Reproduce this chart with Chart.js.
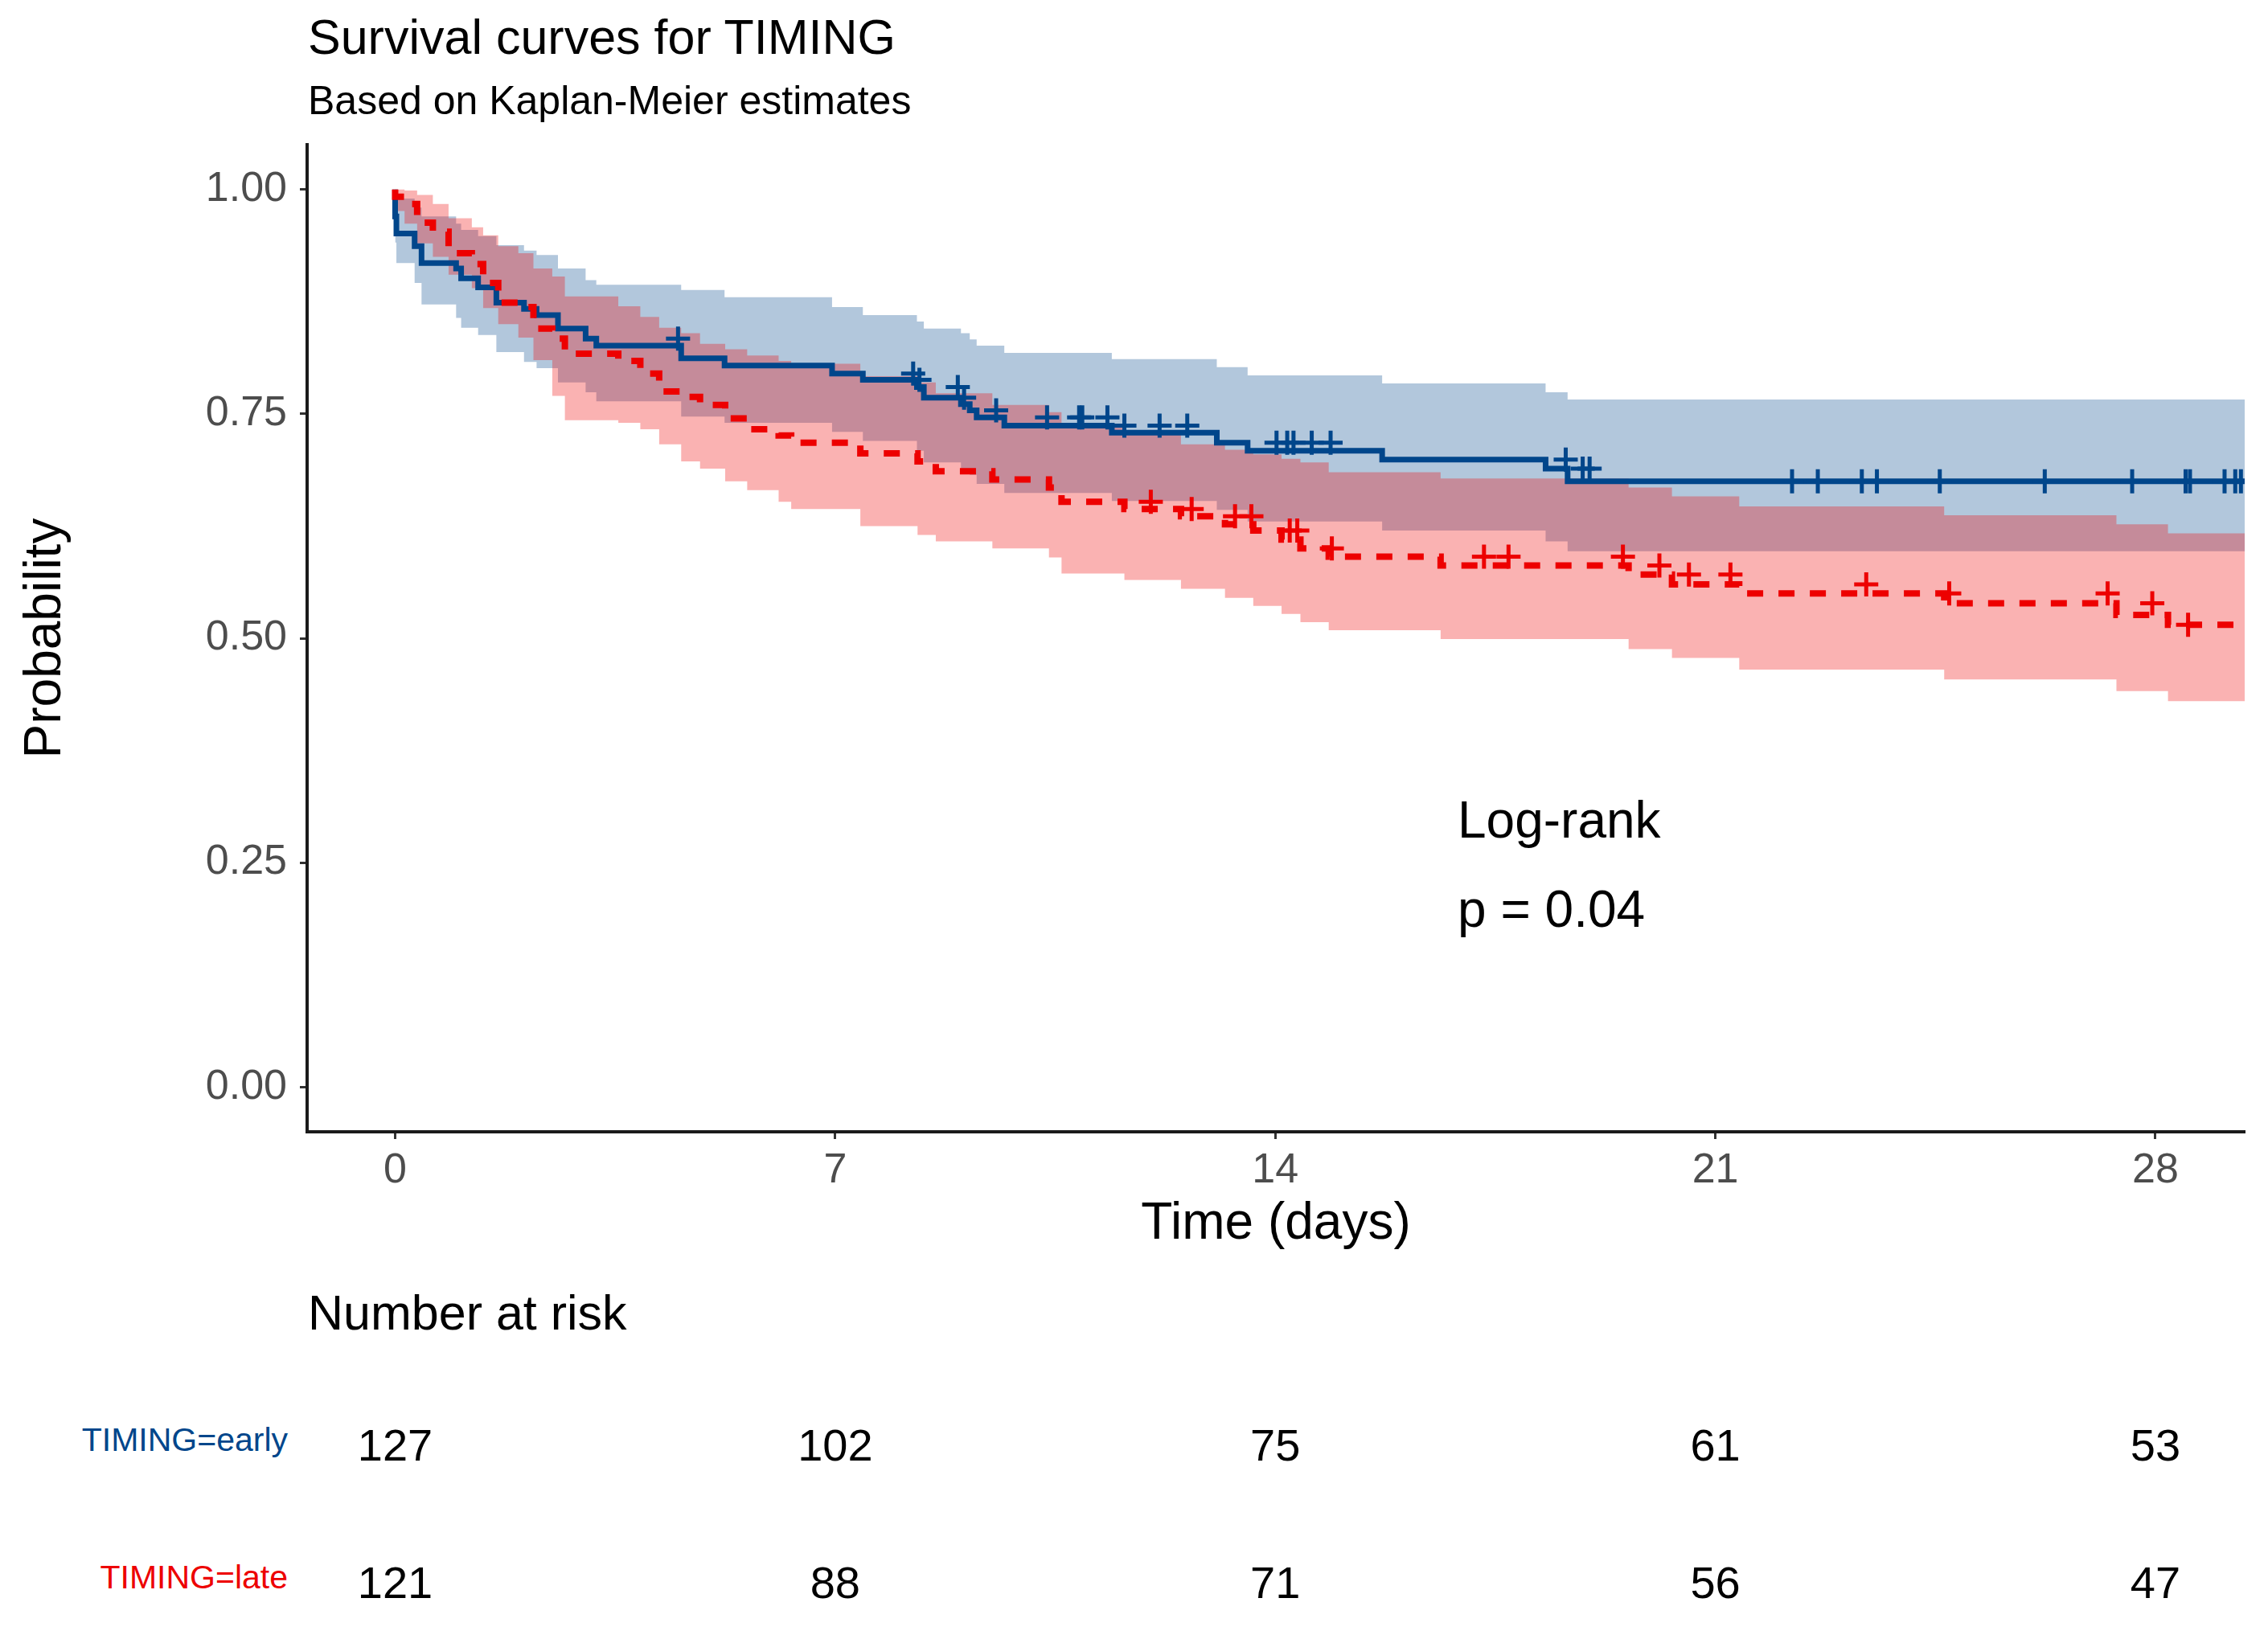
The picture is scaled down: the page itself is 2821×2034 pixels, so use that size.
<!DOCTYPE html>
<html>
<head>
<meta charset="utf-8">
<title>Survival curves for TIMING</title>
<script src="https://cdn.jsdelivr.net/npm/chart.js@4.4.1/dist/chart.umd.min.js"></script>
<style>
  html, body { margin: 0; padding: 0; background: #fff; }
  body { width: 2821px; height: 2034px; position: relative; overflow: hidden;
         font-family: 'Liberation Sans', Arial, sans-serif; color: #000; }
  #plot { position: absolute; left: 0; top: 0; width: 2821px; height: 1580px; }
  .txt { position: absolute; white-space: nowrap; line-height: 1; }
</style>
</head>
<body>
<div id="plot"><canvas id="km"></canvas></div>
<script>
// Kaplan-Meier steps: time in days, survival probability //
// TIMING=early //
const earlyTime  = [0, 0.02, 0.31, 0.42, 0.97, 1.05, 1.32, 1.61, 2.05, 2.25, 2.59, 3.03, 3.20, 4.55, 5.24, 6.95, 7.44, 8.30, 8.41, 9.00, 9.14, 9.25, 9.69, 11.40, 13.07, 13.56, 15.70, 18.30, 18.65, 19.92, 29.45];
const earlySurv  = [1.000, 0.970, 0.951, 0.937, 0.918, 0.912, 0.901, 0.891, 0.874, 0.867, 0.860, 0.845, 0.834, 0.826, 0.812, 0.804, 0.795, 0.788, 0.780, 0.768, 0.761, 0.754, 0.746, 0.737, 0.729, 0.718, 0.709, 0.699, 0.689, 0.675, 0.675];
const earlyUpper = [1.000, 1.000, 0.990, 0.980, 0.970, 0.962, 0.955, 0.948, 0.938, 0.932, 0.927, 0.912, 0.899, 0.894, 0.888, 0.880, 0.869, 0.860, 0.853, 0.845, 0.840, 0.833, 0.826, 0.818, 0.811, 0.802, 0.793, 0.784, 0.774, 0.766, 0.766];
const earlyLower = [1.000, 0.941, 0.918, 0.896, 0.872, 0.857, 0.846, 0.838, 0.819, 0.808, 0.801, 0.785, 0.774, 0.764, 0.747, 0.740, 0.730, 0.720, 0.709, 0.696, 0.689, 0.682, 0.672, 0.662, 0.653, 0.643, 0.630, 0.620, 0.608, 0.597, 0.597];
const earlyCensor = [4.50, 8.24, 8.34, 8.95, 9.05, 9.56, 10.37, 10.88, 10.93, 11.33, 11.60, 12.16, 12.60, 14.02, 14.19, 14.29, 14.58, 14.88, 18.62, 18.89, 19.00, 22.22, 22.63, 23.33, 23.57, 24.57, 26.24, 27.63, 28.48, 28.55, 29.10, 29.27, 29.36];

// TIMING=late //
const lateTime  = [0, 0.15, 0.35, 0.60, 0.85, 1.22, 1.40, 1.64, 1.96, 2.20, 2.50, 2.70, 3.55, 3.90, 4.20, 4.55, 4.85, 5.25, 5.60, 6.10, 6.30, 7.40, 8.31, 8.60, 9.50, 10.40, 10.60, 11.60, 12.50, 13.20, 13.65, 14.10, 14.40, 14.85, 16.63, 19.62, 20.31, 21.38, 24.64, 27.38, 28.20, 28.41, 29.45];
const lateSurv  = [1.000, 0.992, 0.984, 0.963, 0.953, 0.929, 0.917, 0.896, 0.874, 0.869, 0.845, 0.834, 0.817, 0.809, 0.795, 0.775, 0.769, 0.760, 0.745, 0.733, 0.726, 0.718, 0.706, 0.697, 0.686, 0.677, 0.668, 0.652, 0.644, 0.636, 0.627, 0.620, 0.610, 0.600, 0.591, 0.581, 0.571, 0.560, 0.550, 0.539, 0.526, 0.515, 0.515];
const lateUpper = [1.000, 1.000, 0.999, 0.994, 0.984, 0.968, 0.958, 0.949, 0.937, 0.929, 0.912, 0.903, 0.881, 0.870, 0.858, 0.846, 0.840, 0.828, 0.822, 0.815, 0.809, 0.806, 0.792, 0.785, 0.773, 0.760, 0.752, 0.737, 0.730, 0.716, 0.710, 0.705, 0.700, 0.696, 0.685, 0.678, 0.668, 0.658, 0.647, 0.637, 0.627, 0.617, 0.617];
const lateLower = [1.000, 0.976, 0.962, 0.940, 0.925, 0.905, 0.890, 0.868, 0.850, 0.835, 0.810, 0.770, 0.743, 0.740, 0.733, 0.716, 0.697, 0.689, 0.675, 0.665, 0.652, 0.644, 0.625, 0.615, 0.608, 0.600, 0.590, 0.572, 0.565, 0.555, 0.545, 0.536, 0.527, 0.518, 0.509, 0.499, 0.488, 0.478, 0.465, 0.454, 0.441, 0.430, 0.430];
const lateCensor = [12.02, 12.67, 13.36, 13.62, 14.23, 14.35, 14.90, 17.32, 17.71, 19.53, 20.11, 20.58, 21.24, 23.40, 24.72, 27.24, 27.95, 28.52];

// axis ticks and the number at risk table //
const tickDays = [0, 7, 14, 21, 28];
const tickProb = [0, 0.25, 0.5, 0.75, 1];
const riskTimes = [0, 7, 14, 21, 28];
const riskEarly = [127, 102, 75, 61, 53];
const riskLate  = [121, 88, 71, 56, 47];

const BLUE = '#00468B';
const RED = '#ED0000';

Chart.defaults.font.family = "'Liberation Sans', Arial, sans-serif";

function toPoints(times, vals) {
  return times.map((t, i) => ({ x: t, y: vals[i] }));
}

// value of a step curve at time t //
function stepAt(times, vals, t) {
  let v = vals[0];
  for (let i = 0; i < times.length; i++) {
    if (times[i] <= t) v = vals[i];
  }
  return v;
}

function censorPoints(ct, times, vals) {
  return ct.map(t => ({ x: t, y: stepAt(times, vals, t) }));
}

function bandSet(label, times, vals, color, fill, order) {
  return {
    label: label, data: toPoints(times, vals), stepped: 'after',
    borderWidth: 0, borderColor: 'rgba(0,0,0,0)', pointRadius: 0,
    backgroundColor: color, fill: fill, order: order
  };
}

const axisGrid = { drawOnChartArea: false, drawTicks: true, tickLength: 9, tickWidth: 3, tickColor: '#333' };
const axisBorder = { display: true, color: '#1a1a1a', width: 4 };

const chart = new Chart(document.getElementById('km'), {
  type: 'line',
  data: {
    datasets: [
      bandSet('early upper', earlyTime, earlyUpper, 'rgba(0,70,139,0.3)', '+1', 5),
      bandSet('early lower', earlyTime, earlyLower, 'rgba(0,0,0,0)', false, 5),
      bandSet('late upper', lateTime, lateUpper, 'rgba(237,0,0,0.3)', '+1', 4),
      bandSet('late lower', lateTime, lateLower, 'rgba(0,0,0,0)', false, 4),
      {
        label: 'TIMING=early', data: toPoints(earlyTime, earlySurv), stepped: 'after',
        borderColor: BLUE, borderWidth: 7, pointRadius: 0, fill: false, order: 3
      },
      {
        label: 'TIMING=late', data: toPoints(lateTime, lateSurv), stepped: 'after',
        borderColor: RED, borderWidth: 8, borderDash: [20, 19], pointRadius: 0, fill: false, order: 2
      },
      {
        label: 'early censored', data: censorPoints(earlyCensor, earlyTime, earlySurv), showLine: false,
        pointStyle: 'cross', pointRadius: 15, pointBorderWidth: 5, pointBorderColor: BLUE, order: 1
      },
      {
        label: 'late censored', data: censorPoints(lateCensor, lateTime, lateSurv), showLine: false,
        pointStyle: 'cross', pointRadius: 15, pointBorderWidth: 5, pointBorderColor: RED, order: 0
      }
    ]
  },
  options: {
    responsive: true,
    maintainAspectRatio: false,
    devicePixelRatio: 1,
    animation: false,
    events: [],
    layout: { padding: { top: 180, right: 29, left: 0, bottom: 0 } },
    plugins: { legend: { display: false }, tooltip: { enabled: false } },
    scales: {
      x: {
        type: 'linear', min: -1.4, max: 29.42,
        afterBuildTicks: s => { s.ticks = tickDays.map(v => ({ value: v })); },
        afterFit: s => { s.height = 172; },
        ticks: { color: '#4D4D4D', font: { size: 52 }, padding: 8, maxRotation: 0, callback: v => String(v) },
        grid: axisGrid,
        border: axisBorder,
        title: { display: true, text: 'Time (days)', color: '#000', font: { size: 64 }, padding: { top: 0, bottom: 18 } }
      },
      y: {
        type: 'linear', min: -0.05, max: 1.05,
        afterBuildTicks: s => { s.ticks = tickProb.map(v => ({ value: v })); },
        afterFit: s => { s.width = 382; },
        ticks: { color: '#4D4D4D', font: { size: 52 }, padding: 16, callback: v => Number(v).toFixed(2) },
        grid: axisGrid,
        border: axisBorder,
        title: { display: true, text: 'Probability', color: '#000', font: { size: 64 }, padding: { top: 19, bottom: 0 } }
      }
    }
  }
});

// text placed by its baseline //
function placeText(text, x, baseline, size, color, align) {
  const d = document.createElement('div');
  d.className = 'txt';
  d.textContent = text;
  d.style.fontSize = size + 'px';
  d.style.color = color || '#000';
  d.style.left = x + 'px';
  d.style.top = (baseline - 0.8465 * size) + 'px';
  if (align === 'center') d.style.transform = 'translateX(-50%)';
  if (align === 'right') d.style.transform = 'translateX(-100%)';
  document.body.appendChild(d);
}

placeText('Survival curves for TIMING', 383, 68, 61);
placeText('Based on Kaplan-Meier estimates', 383, 142, 50);
placeText('Log-rank', 1813, 1042, 64);
placeText('p = 0.04', 1813, 1153, 64);

// number at risk table, columns follow the x axis //
placeText('Number at risk', 383, 1655, 61);
placeText('TIMING=early', 358, 1806, 41, BLUE, 'right');
placeText('TIMING=late', 358, 1977, 41, RED, 'right');
const xs = chart.scales.x;
riskTimes.forEach((t, i) => {
  const px = xs.getPixelForValue(t);
  placeText(String(riskEarly[i]), px, 1817, 56, '#000', 'center');
  placeText(String(riskLate[i]), px, 1988, 56, '#000', 'center');
});
</script>
</body>
</html>
